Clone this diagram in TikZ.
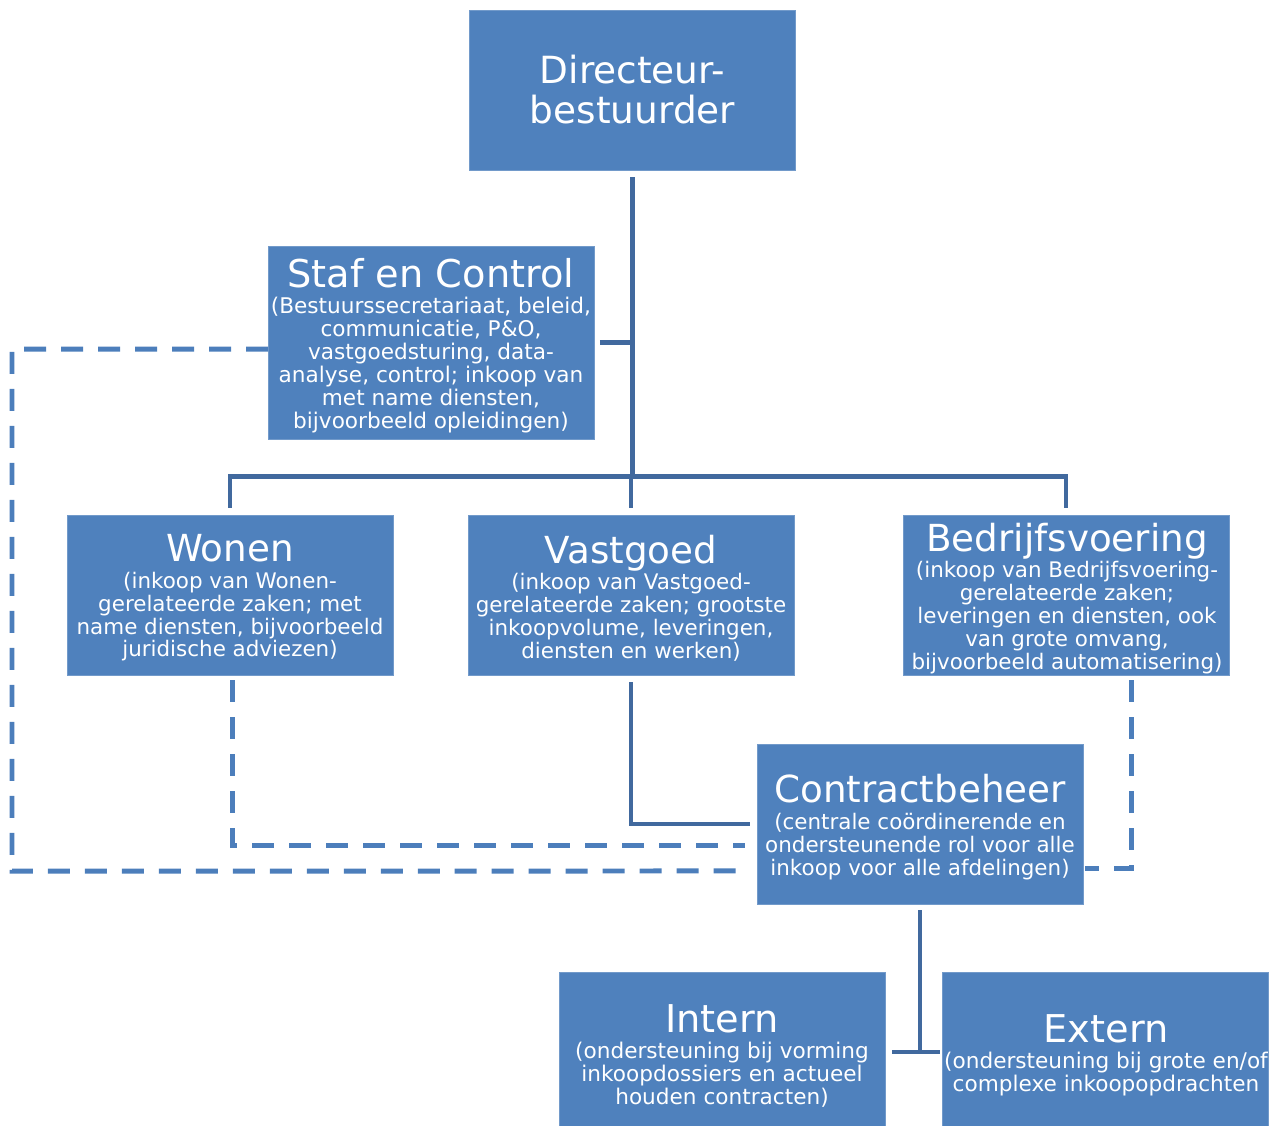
\documentclass[tikz,border=0pt]{standalone}
\usepackage{fontspec}
\setmainfont{DejaVu Sans}

\definecolor{boxblue}{HTML}{4F81BD}
\definecolor{linkblue}{HTML}{41699E}
\definecolor{dashblue}{HTML}{4C7EBB}

% fonts for the unit boxes
\newcommand\unitbodyfont{\lineskiplimit=-100pt\relax\fontsize{12.2}{13.04}\selectfont}
\newcommand\widebodyfont{\lineskiplimit=-100pt\relax\fontsize{12.3}{13.04}\selectfont}
\newcommand\headfont{\lineskiplimit=-100pt\relax\fontsize{21.3}{22.7}\selectfont}
% heading line inside a unit box
\newcommand\unittitle[1]{{\fontsize{21.2}{22.7}\selectfont #1}}
\newcommand\unittitlewide[1]{{\fontsize{21.8}{22.7}\selectfont #1}}

\begin{document}
\begin{tikzpicture}[x=0.02cm,y=-0.02cm,
  unitbox/.style={rectangle, fill=boxblue, draw=boxblue!80!white, line width=0.3pt,
    minimum width=6.53cm, minimum height=3.2cm, inner sep=0pt},
  unittext/.style={text=white, align=center, inner sep=0pt, font=\unitbodyfont},
  link/.style={draw=linkblue, line width=0.095cm},
  dashlink/.style={draw=dashblue, line width=0.1cm, dash pattern=on 0.44cm off 0.3cm},
]
\useasboundingbox (0,0) rectangle (1286,1126);

% ---- unit boxes ----
\node[unitbox] (dir)      at (632.5,90)   {};
\node[unitbox, minimum height=3.86cm] (staf) at (431.5,342.5) {};
\node[unitbox] (wonen)    at (230,595)    {};
\node[unitbox] (vast)     at (631,595)    {};
\node[unitbox] (bedr)     at (1066,595)   {};
\node[unitbox] (contract) at (920,824)    {};
\node[unitbox] (intern)   at (722,1052)   {};
\node[unitbox] (extern)   at (1105,1052)  {};

% ---- texts ----
\node[unittext, font=\headfont] (dir-t) at (632.5,89.5)
  {Directeur-\\bestuurder};
\node[unittext, font=\widebodyfont] (staf-t) at (431,345.5)
  {\unittitlewide{Staf en Control}\\[2pt]
   (Bestuurssecretariaat, beleid,\\communicatie, P\&O,\\vastgoedsturing, data-\\
   analyse, control; inkoop van\\met name diensten,\\bijvoorbeeld opleidingen)};
\node[unittext] (wonen-t) at (230,598)
  {\unittitle{Wonen}\\[2pt]
   (inkoop van Wonen-\\gerelateerde zaken; met\\name diensten, bijvoorbeeld\\juridische adviezen)};
\node[unittext] (vast-t) at (631,598)
  {\unittitle{Vastgoed}\\[2pt]
   (inkoop van Vastgoed-\\gerelateerde zaken; grootste\\inkoopvolume, leveringen,\\diensten en werken)};
\node[unittext] (bedr-t) at (1067,598.5)
  {\unittitle{Bedrijfsvoering}\\[2pt]
   (inkoop van Bedrijfsvoering-\\gerelateerde zaken;\\leveringen en diensten, ook\\van grote omvang,\\bijvoorbeeld automatisering)};
\node[unittext] (contract-t) at (920,827)
  {\unittitle{Contractbeheer}\\[2pt]
   (centrale coördinerende en\\ondersteunende rol voor alle\\inkoop voor alle afdelingen)};
\node[unittext, font=\widebodyfont] (intern-t) at (722,1056)
  {\unittitlewide{Intern}\\[2pt]
   (ondersteuning bij vorming\\inkoopdossiers en actueel\\houden contracten)};
\node[unittext, font=\widebodyfont] (extern-t) at (1106,1055.5)
  {\unittitlewide{Extern}\\[2pt]
   (ondersteuning bij grote en/of\\complexe inkoopopdrachten};

% ---- hierarchy (solid) ----
\draw[link] ([yshift=-0.14cm]dir.south) -- ([yshift=0.76cm]dir.south |- wonen.north);
\draw[link] ([xshift=0.1cm]staf.east) -- (staf.east -| dir.south);
\draw[link] ([yshift=0.14cm]wonen.north) -- ([yshift=0.76cm]wonen.north)
  -- ([yshift=0.76cm]bedr.north) -- ([yshift=0.14cm]bedr.north);
\draw[link] ([yshift=0.14cm]vast.north) -- ([yshift=0.76cm]vast.north);
\draw[link] ([yshift=-0.14cm]vast.south) |- ([xshift=-0.14cm]contract.west);
\draw[link] ([yshift=-0.12cm]contract.south) -- (contract.south |- intern.east);
\draw[link] ([xshift=0.14cm]intern.east) -- ([xshift=-0.04cm]extern.west);

% ---- coordination lines (dashed) ----
\coordinate (leftrail) at (12,871);
\draw[dashlink] ([yshift=-0.13cm]staf.west) -| (leftrail)
  -- ([xshift=-0.24cm,yshift=-0.94cm]contract.west);
\draw[dashlink] ([xshift=0.04cm,yshift=-0.1cm]wonen.south)
  |- ([xshift=-0.24cm,yshift=-0.42cm]contract.west);
\draw[dashlink] ([xshift=1.32cm,yshift=-0.1cm]bedr.south)
  |- ([xshift=0.04cm,yshift=-0.9cm]contract.east);
\end{tikzpicture}
\end{document}
